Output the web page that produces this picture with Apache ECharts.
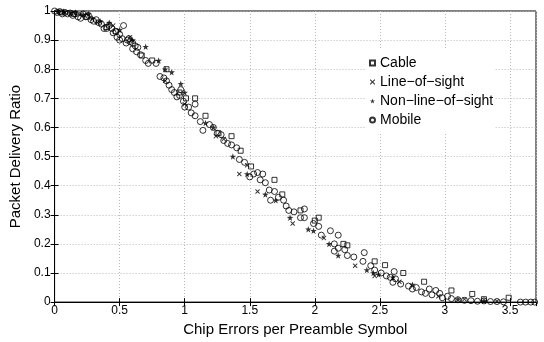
<!DOCTYPE html>
<html>
<head>
<meta charset="utf-8">
<script src="https://cdn.jsdelivr.net/npm/echarts@6/dist/echarts.min.js"></script>
<style>html,body{margin:0;padding:0;background:#fff}#c{width:544px;height:342px}</style>
</head>
<body>
<div id="c"></div>
<script>
const xTicks = [0, 0.5, 1, 1.5, 2, 2.5, 3, 3.5];
const yTicks = [0, 0.1, 0.2, 0.3, 0.4, 0.5, 0.6, 0.7, 0.8, 0.9, 1];
const seriesNames = ['Cable', 'Line\u2212of\u2212sight', 'Non\u2212line\u2212of\u2212sight', 'Mobile'];

const cable = [[0.05,0.995],[0.15,0.99],[0.25,0.98],[0.4,0.945],[0.47,0.93],[0.67,0.847],[0.75,0.83],[0.86,0.8],[0.96,0.72],[1.01,0.7],[1.08,0.7],[1.16,0.64],[1.26,0.58],[1.36,0.57],[1.43,0.52],[1.51,0.466],[1.69,0.42],[1.75,0.37],[1.89,0.315],[2.0,0.28],[2.03,0.29],[2.22,0.2],[2.25,0.195],[2.46,0.14],[2.54,0.127],[2.68,0.1],[2.84,0.07],[3.05,0.04],[3.21,0.028],[3.3,0.01],[3.49,0.015]];

const lineOfSight = [[0.08,0.995],[0.2,0.99],[0.33,0.96],[0.45,0.95],[0.58,0.91],[0.85,0.76],[1.0,0.68],[1.24,0.57],[1.3,0.56],[1.42,0.44],[1.48,0.47],[1.56,0.38],[1.83,0.27],[2.07,0.22],[2.31,0.125],[2.46,0.09],[2.65,0.07],[2.95,0.02],[3.15,0.01],[3.4,0.003]];

const nonLineOfSight = [[0.03,0.998],[0.07,0.998],[0.12,0.993],[0.16,0.995],[0.22,0.988],[0.26,0.99],[0.29,0.975],[0.35,0.965],[0.42,0.96],[0.5,0.935],[0.6,0.9],[0.7,0.877],[0.8,0.83],[0.85,0.8],[0.9,0.79],[0.97,0.75],[1.0,0.72],[1.16,0.615],[1.22,0.6],[1.37,0.5],[1.48,0.44],[1.62,0.37],[1.7,0.35],[1.81,0.29],[1.95,0.25],[1.99,0.245],[2.11,0.2],[2.18,0.16],[2.40,0.11],[2.45,0.1],[2.49,0.095],[2.6,0.085],[2.75,0.06],[3.1,0.01],[3.3,0.005]];

const mobile = [[0.0,1.0],[0.02,0.995],[0.04,0.998],[0.06,0.99],[0.08,0.995],[0.1,0.99],[0.12,0.993],[0.14,0.985],[0.16,0.99],[0.18,0.98],[0.2,0.975],[0.22,0.99],[0.24,0.98],[0.26,0.985],[0.28,0.97],[0.3,0.965],[0.32,0.97],[0.34,0.96],[0.36,0.955],[0.38,0.94],[0.4,0.94],[0.42,0.95],[0.44,0.94],[0.45,0.925],[0.47,0.93],[0.48,0.91],[0.5,0.9],[0.5,0.92],[0.52,0.905],[0.53,0.95],[0.55,0.89],[0.56,0.9],[0.57,0.905],[0.58,0.895],[0.6,0.87],[0.6,0.89],[0.62,0.88],[0.63,0.86],[0.64,0.875],[0.66,0.85],[0.7,0.83],[0.72,0.82],[0.78,0.82],[0.81,0.775],[0.84,0.77],[0.86,0.76],[0.88,0.745],[0.9,0.73],[0.92,0.72],[0.94,0.705],[0.96,0.71],[0.97,0.73],[0.99,0.69],[1.0,0.67],[1.03,0.67],[1.05,0.65],[1.08,0.68],[1.08,0.64],[1.12,0.62],[1.14,0.59],[1.19,0.61],[1.22,0.6],[1.25,0.58],[1.28,0.575],[1.3,0.555],[1.33,0.545],[1.36,0.54],[1.4,0.53],[1.42,0.49],[1.46,0.48],[1.5,0.43],[1.53,0.44],[1.56,0.445],[1.58,0.42],[1.6,0.44],[1.62,0.41],[1.65,0.385],[1.66,0.35],[1.69,0.38],[1.72,0.36],[1.76,0.35],[1.78,0.33],[1.8,0.315],[1.84,0.31],[1.89,0.29],[1.92,0.32],[1.92,0.29],[1.99,0.27],[2.03,0.26],[2.05,0.23],[2.12,0.245],[2.15,0.2],[2.18,0.23],[2.18,0.185],[2.15,0.175],[2.23,0.18],[2.25,0.16],[2.3,0.155],[2.37,0.14],[2.38,0.17],[2.43,0.125],[2.46,0.11],[2.51,0.1],[2.55,0.09],[2.58,0.085],[2.61,0.105],[2.62,0.08],[2.6,0.068],[2.66,0.062],[2.72,0.055],[2.75,0.045],[2.78,0.05],[2.82,0.035],[2.85,0.03],[2.88,0.045],[2.9,0.025],[2.93,0.04],[2.96,0.03],[2.98,0.015],[3.02,0.02],[3.05,0.012],[3.1,0.008],[3.15,0.006],[3.2,0.005],[3.25,0.003],[3.3,0.004],[3.35,0.002],[3.4,0.002],[3.45,0.001],[3.58,0],[3.62,0],[3.66,0],[3.69,0]];

const FONT = 'Liberation Sans, Arial, Helvetica, sans-serif';
const starPath = 'path://M0,-10 L2.35,-3.24 9.51,-3.09 3.8,1.24 5.88,8.09 0,4 -5.88,8.09 -3.8,1.24 -9.51,-3.09 -2.35,-3.24 Z';
const crossPath = 'path://M0,0 L1.5,0 5,3.5 8.5,0 10,0 10,1.5 6.5,5 10,8.5 10,10 8.5,10 5,6.5 1.5,10 0,10 0,8.5 3.5,5 0,1.5 Z';

const chart = echarts.init(document.getElementById('c'), null, {renderer: 'canvas'});
const gridLine = {show: true, lineStyle: {color: '#b8b8b8', type: [1, 2], width: 1}};
const fmt = v => (Math.abs(v) < 1e-9 ? '0' : String(Math.round(v * 10) / 10));

chart.setOption({
  animation: false,
  backgroundColor: '#fff',
  grid: {left: 50, right: 8, top: 11, bottom: 32, show: true, borderColor: '#000', borderWidth: 1},
  legend: {
    orient: 'vertical', left: 365, top: 50,
    backgroundColor: '#fff',
    padding: [6, 2, 6, 4],
    itemWidth: 5, itemHeight: 5, itemGap: 5,
    textStyle: {fontFamily: FONT, fontSize: 14, color: '#000', lineHeight: 14},
    data: seriesNames
  },
  xAxis: [{
    type: 'value', min: 0, max: 3.7, interval: 0.5,
    name: 'Chip Errors per Preamble Symbol', nameLocation: 'middle', nameGap: 12,
    nameTextStyle: {fontFamily: FONT, fontSize: 15, color: '#000'},
    axisLine: {show: true, onZero: false, lineStyle: {color: '#000', width: 1}},
    axisTick: {show: true, inside: true, length: 4, lineStyle: {color: '#000'}},
    axisLabel: {fontFamily: FONT, fontSize: 12, color: '#000', margin: 3, formatter: fmt, showMaxLabel: false},
    splitLine: gridLine
  }, {
    type: 'value', min: 0, max: 3.7, interval: 0.5, position: 'top',
    axisLine: {show: true, lineStyle: {color: '#000'}},
    axisTick: {show: true, inside: true, length: 4, lineStyle: {color: '#000'}},
    axisLabel: {show: false}, splitLine: {show: false}
  }],
  yAxis: [{
    type: 'value', min: 0, max: 1, interval: 0.1,
    name: 'Packet Delivery Ratio', nameLocation: 'middle', nameGap: 23,
    nameTextStyle: {fontFamily: FONT, fontSize: 15, color: '#000'},
    axisLine: {show: true, onZero: false, lineStyle: {color: '#000', width: 1}},
    axisTick: {show: true, inside: true, length: 4, lineStyle: {color: '#000'}},
    axisLabel: {fontFamily: FONT, fontSize: 12, color: '#000', margin: 4, formatter: fmt},
    splitLine: gridLine
  }, {
    type: 'value', min: 0, max: 1, interval: 0.1, position: 'right',
    axisLine: {show: true, lineStyle: {color: '#000'}},
    axisTick: {show: true, inside: true, length: 4, lineStyle: {color: '#000'}},
    axisLabel: {show: false}, splitLine: {show: false}
  }],
  series: [
    {name: seriesNames[0], type: 'scatter', data: cable, symbol: 'rect', symbolSize: 5,
     itemStyle: {color: 'rgba(255,255,255,0)', borderColor: '#000', borderWidth: 1}},
    {name: seriesNames[1], type: 'scatter', data: lineOfSight, symbol: crossPath, symbolSize: 4.5,
     itemStyle: {color: '#000'}},
    {name: seriesNames[2], type: 'scatter', data: nonLineOfSight, symbol: starPath, symbolSize: 6.5,
     itemStyle: {color: '#000'}},
    {name: seriesNames[3], type: 'scatter', data: mobile, symbol: 'circle', symbolSize: 6,
     itemStyle: {color: 'rgba(255,255,255,0)', borderColor: '#000', borderWidth: 1}}
  ]
});
</script>
</body>
</html>
